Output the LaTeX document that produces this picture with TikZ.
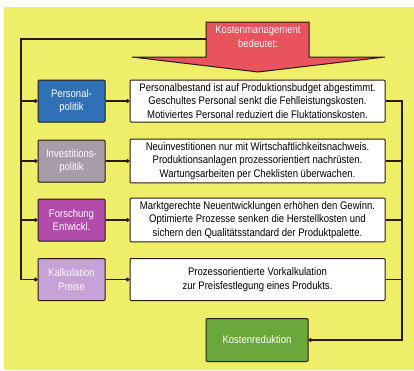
\documentclass[tikz,border=0pt]{standalone}
\usepackage{fontspec}
\setmainfont{Liberation Sans}[FakeStretch=0.866]
\usetikzlibrary{arrows.meta}
\definecolor{gelb}{HTML}{EEEE68}
\definecolor{linie}{HTML}{2B1A12}
\definecolor{rot}{HTML}{E8535E}
\definecolor{blau}{HTML}{2F70B6}
\definecolor{grau}{HTML}{A79DA8}
\definecolor{magenta}{HTML}{B24BAA}
\definecolor{lila}{HTML}{C7A2D6}
\definecolor{gruen}{HTML}{6BA83C}

\begin{document}
\begin{tikzpicture}[x=1pt,y=-1pt,
    linie/.style={draw=linie, line width=1.6pt},
    punkt/.style={linie, -{Circle[length=4pt,width=3.6pt]}},
    feld/.style={draw=linie, line width=1pt, rounded corners=1pt,
        minimum width=67pt, minimum height=42pt, align=center, text=white,
        font=\fontsize{11}{13.5}\selectfont},
    textfeld/.style={draw=linie, line width=1pt, rounded corners=1pt, fill=white,
        minimum width=255pt, minimum height=42pt, align=center,
        font=\fontsize{11}{13.5}\selectfont}]

    % Hintergrund
    \useasboundingbox (0,0) rectangle (414,370);
    \fill[gelb] (4,7) rectangle (414,370);

    % Pfeil oben
    \draw[fill=rot, draw=linie, line width=1pt]
        (206,22) -- (309,22) -- (309,57) -- (385,57) -- (258,72)
        -- (132,57) -- (206,57) -- cycle;
    \node[align=center, text=white, font=\fontsize{11}{13.5}\selectfont]
        (kosten) at (258,37) {Kostenmanagement\\bedeutet:};
    \coordinate (stiel) at (206,39);
    \coordinate (links) at (21,39);
    \coordinate (rechts) at (402,0);

    % Bereiche links
    \node[feld, fill=blau] (pers) at (71.5,101) {Personal-\\politik};
    \node[feld, fill=grau] (inv) at (71.5,161) {Investitions-\\politik};
    \node[feld, fill=magenta] (fe) at (71.5,220) {Forschung\\Entwickl.};
    \node[feld, fill=lila, text=white!92!lila] (kalk) at (71.5,279.5) {Kalkulation\\Preise};

    % Erläuterungen
    \node[textfeld] (t1) at (257.5,101) {Personalbestand ist auf Produktionsbudget abgestimmt.\\
        Geschultes Personal senkt die Fehlleistungskosten.\\
        Motiviertes Personal reduziert die Fluktationskosten.};
    \node[textfeld] (t2) at (257.5,161) {Neuinvestitionen nur mit Wirtschaftlichkeitsnachweis.\\
        Produktionsanlagen prozessorientiert nachrüsten.\\
        Wartungsarbeiten per Cheklisten überwachen.};
    \node[textfeld] (t3) at (257.5,220) {Marktgerechte Neuentwicklungen erhöhen den Gewinn.\\
        Optimierte Prozesse senken die Herstellkosten und\\
        sichern den Qualitätsstandard der Produktpalette.};
    \node[textfeld] (t4) at (257.5,279.5) {Prozessorientierte Vorkalkulation\\
        zur Preisfestlegung eines Produkts.};

    % Ergebnis
    \node[feld, fill=gruen, minimum width=102pt, minimum height=43pt] (red) at (257,340) {Kostenreduktion};

    % Linke Sammelleitung
    \draw[linie] (stiel) -- (links) -- (links |- kalk.west);
    \foreach \b in {pers,inv,fe,kalk}
        \draw[punkt] (links |- \b.west) -- (\b.west);

    % Verbindungen links -> rechts
    \draw[punkt] (pers.east) -- (t1.west);
    \draw[punkt] (inv.east) -- (t2.west);
    \draw[punkt] (fe.east) -- (t3.west);
    \draw[punkt] (kalk.east) -- (t4.west);

    % Rechte Sammelleitung
    \draw[punkt, line join=miter] (t1.east) -- (rechts |- t1.east) -- (rechts |- red.east) -- (red.east);
    \foreach \b in {t2,t3,t4}
        \draw[linie] (\b.east) -- (rechts |- \b.east);

\end{tikzpicture}
\end{document}
